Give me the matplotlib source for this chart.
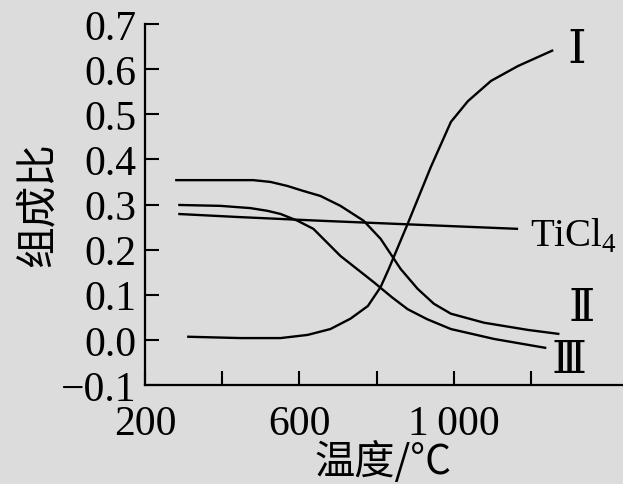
import matplotlib
matplotlib.use("Agg")
import matplotlib.pyplot as plt

# ---- data ----
temp_I = [309, 447, 551, 621, 680, 732, 777, 810, 831, 880, 940, 992, 1036, 1096, 1166, 1257]
ratio_I = [0.007, 0.004, 0.004, 0.011, 0.024, 0.047, 0.075, 0.117, 0.157, 0.257, 0.383, 0.483, 0.529, 0.574, 0.607, 0.642]

temp_II = [278, 480, 525, 569, 610, 654, 706, 766, 810, 862, 906, 948, 992, 1078, 1192, 1273]
ratio_II = [0.354, 0.354, 0.350, 0.341, 0.330, 0.319, 0.297, 0.264, 0.224, 0.157, 0.113, 0.080, 0.058, 0.038, 0.022, 0.013]

temp_III = [286, 395, 473, 517, 551, 595, 636, 706, 792, 840, 880, 930, 992, 1104, 1239]
ratio_III = [0.299, 0.297, 0.292, 0.286, 0.279, 0.264, 0.246, 0.186, 0.128, 0.094, 0.068, 0.046, 0.024, 0.002, -0.018]

temp_TiCl4 = [286, 447, 654, 966, 1166]
ratio_TiCl4 = [0.279, 0.272, 0.264, 0.253, 0.246]

x_ticks = [200, 400, 600, 800, 1000, 1200]
x_ticklabels = ["200", "", "600", "", "1\u2009000", ""]
y_ticks = [-0.1, 0.0, 0.1, 0.2, 0.3, 0.4, 0.5, 0.6, 0.7]
y_ticklabels = ["\u22120.1", "0.0", "0.1", "0.2", "0.3", "0.4", "0.5", "0.6", "0.7"]

curve_labels = ["Ⅰ", "Ⅱ", "Ⅲ", "TiCl$_4$"]
xlabel = "温度/°C"
ylabel = "组成比"

# ---- style ----
serif = ["Liberation Serif", "DejaVu Serif"]
cjk = ["Noto Sans CJK SC", "DejaVu Sans"]
bg = "#dcdcdc"
plt.rcParams["font.family"] = serif
plt.rcParams["mathtext.fontset"] = "custom"
plt.rcParams["mathtext.rm"] = "Liberation Serif"

fig = plt.figure(figsize=(6.23, 4.85), dpi=100, facecolor=bg)
ax = fig.add_axes([145 / 623, 99 / 485, (622 - 145) / 623, (386 - 25) / 485])
ax.set_facecolor(bg)

lw = 1.7
for t, r in [(temp_I, ratio_I), (temp_II, ratio_II), (temp_III, ratio_III), (temp_TiCl4, ratio_TiCl4)]:
    ax.plot(t, r, color="black", lw=lw, solid_capstyle="butt", solid_joinstyle="round")

ax.set_xlim(200, 1435)
ax.set_ylim(-0.1, 0.7)
for s in ["top", "right"]:
    ax.spines[s].set_visible(False)
for s in ["left", "bottom"]:
    ax.spines[s].set_linewidth(1.6)

ax.set_xticks(x_ticks)
ax.set_xticklabels(x_ticklabels)
ax.set_yticks(y_ticks)
ax.set_yticklabels(y_ticklabels)
ax.tick_params(axis="both", direction="in", length=10, width=1.5, labelsize=30)
ax.tick_params(axis="x", pad=14)
ax.tick_params(axis="y", pad=6)

# curve labels
ax.text(1319, 0.64, curve_labels[0], fontsize=34, ha="center", va="center", family=serif)
ax.text(1330, 0.069, curve_labels[1], fontsize=32, ha="center", va="center", family=serif)
ax.text(1299, -0.047, curve_labels[2], fontsize=32, ha="center", va="center", family=serif)
ax.text(1198, 0.232, curve_labels[3], fontsize=28, ha="left", va="center", family=serif)

fig.text(383 / 623, 1 - 462 / 485, xlabel, fontsize=29, ha="center", va="center", family=cjk)
fig.text(38 / 623, 1 - 205 / 485, ylabel, fontsize=30, ha="center", va="center", rotation=90, family=cjk)

fig.savefig("out.png", dpi=100, facecolor=bg)
